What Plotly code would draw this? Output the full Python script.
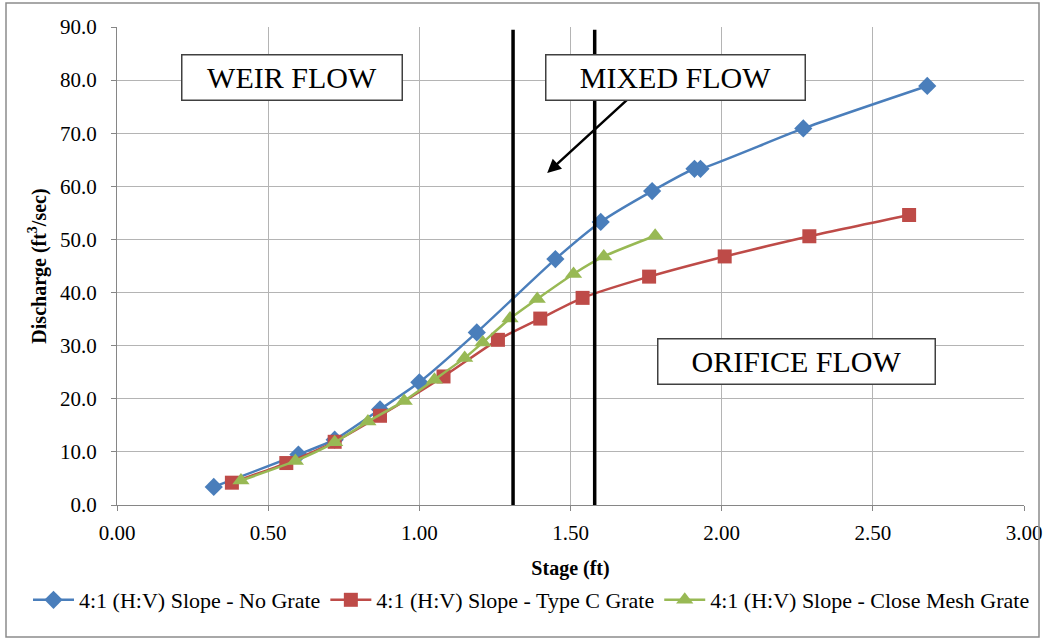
import plotly.graph_objects as go

stage_no_grate = [0.32, 0.60, 0.72, 0.87, 1.00, 1.19, 1.45, 1.60, 1.77, 1.91, 1.93, 2.27, 2.68]
q_no_grate = [3.4, 9.5, 12.3, 18.0, 23.1, 32.5, 46.3, 53.3, 59.1, 63.3, 63.3, 70.9, 78.9]

stage_type_c = [0.38, 0.56, 0.72, 0.87, 1.08, 1.26, 1.40, 1.54, 1.76, 2.01, 2.29, 2.62]
q_type_c = [4.2, 7.9, 11.9, 16.8, 24.2, 31.1, 35.1, 39.0, 43.0, 46.8, 50.6, 54.6]

stage_mesh = [0.41, 0.59, 0.72, 0.83, 0.95, 1.05, 1.15, 1.21, 1.30, 1.39, 1.51, 1.61, 1.78]
q_mesh = [4.6, 8.3, 11.8, 15.7, 19.6, 23.6, 27.7, 30.6, 35.1, 38.8, 43.5, 46.8, 50.7]

names = ["4:1 (H:V) Slope - No Grate", "4:1 (H:V) Slope - Type C Grate",
         "4:1 (H:V) Slope - Close Mesh Grate"]
colors = ["#4A7EBB", "#BE4B48", "#98B954"]
symbols = ["diamond", "square", "triangle-up"]
sizes = [14, 14, 15]

boundaries = [1.31, 1.58]

x_ticks = [0.0, 0.5, 1.0, 1.5, 2.0, 2.5, 3.0]
y_ticks = [0, 10, 20, 30, 40, 50, 60, 70, 80, 90]

font = "Liberation Serif"

L, R, T, B = 117, 1024, 27, 505
PW, PH = R - L, B - T

fig = go.Figure()
for xs, ys, n, c, s, sz in zip([stage_no_grate, stage_type_c, stage_mesh],
                               [q_no_grate, q_type_c, q_mesh],
                               names, colors, symbols, sizes):
    fig.add_trace(go.Scatter(x=xs, y=ys, name=n, mode="lines+markers",
                             line=dict(color=c, width=2.5, shape="spline", smoothing=0.6),
                             marker=dict(symbol=s, size=sz, color=c)))

for b in boundaries:
    fig.add_shape(type="line", xref="x", yref="y", x0=b, x1=b, y0=-0.5, y1=89.5,
                  line=dict(color="black", width=3.5))

# arrow (drawn first so the box covers its tail)
fig.add_annotation(x=1.423, y=62.5, ax=1.72, ay=78.0, xref="x", yref="y",
                   axref="x", ayref="y", text="", showarrow=True, arrowhead=2,
                   arrowsize=1.1, arrowwidth=2.5, arrowcolor="black")

box = dict(font=dict(family=font, size=30, color="black"), showarrow=False,
           bordercolor="#404040", borderwidth=1.5, bgcolor="white",
           xref="paper", yref="paper", xanchor="center", yanchor="middle",
           height=40, borderpad=2)
fig.add_annotation(text="WEIR FLOW", x=(291.5 - L) / PW, y=(B - 78) / PH,
                   width=215, **box)
fig.add_annotation(text="MIXED FLOW", x=(675 - L) / PW, y=(B - 78) / PH,
                   width=254, **box)
fig.add_annotation(text="ORIFICE FLOW", x=(796 - L) / PW, y=(B - 361) / PH,
                   width=272, **box)

fig.update_layout(
    width=1049, height=642,
    margin=dict(l=L, r=1049 - R, t=T, b=642 - B, autoexpand=False),
    paper_bgcolor="white", plot_bgcolor="white",
    font=dict(family=font, size=21, color="black"),
    showlegend=True,
    legend=dict(orientation="h", x=(28 - L) / PW, xanchor="left",
                y=(B - 600) / PH, yanchor="middle",
                font=dict(family=font, size=22), itemwidth=41, tracegroupgap=0),
    shapes=list(fig.layout.shapes) + [dict(type="rect", xref="paper", yref="paper",
                                            x0=(6 - L) / PW, x1=(1039 - L) / PW,
                                            y0=(B - 637) / PH, y1=(B - 3) / PH,
                                            line=dict(color="#8c8c8c", width=1.5))],
)
fig.update_xaxes(range=[0, 3], tickvals=x_ticks,
                 ticktext=[f"{v:.2f}" for v in x_ticks],
                 showgrid=True, gridcolor="#b4b4b4", gridwidth=1,
                 showline=True, linecolor="#868686", linewidth=1,
                 ticks="outside", ticklen=5, tickcolor="#868686",
                 ticklabelstandoff=4,
                 zeroline=False,
                 title=dict(text="<b>Stage (ft)</b>", font=dict(family=font, size=20), standoff=16))
fig.update_yaxes(range=[0, 90], tickvals=y_ticks,
                 ticktext=[f"{v:.1f}" for v in y_ticks],
                 showgrid=True, gridcolor="#b4b4b4", gridwidth=1,
                 showline=True, linecolor="#868686", linewidth=1,
                 ticks="outside", ticklen=5, tickcolor="#868686",
                 ticklabelstandoff=10,
                 zeroline=False,
                 title=dict(text="<b>Discharge (ft<sup>3</sup>/sec)</b>",
                            font=dict(family=font, size=20), standoff=8))

fig.write_html("out.html")
